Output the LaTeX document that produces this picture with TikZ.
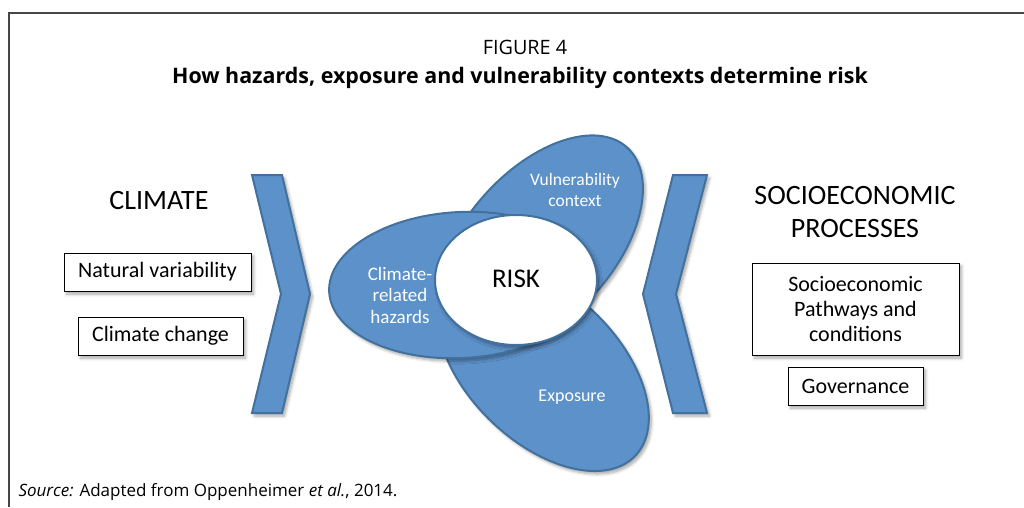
\documentclass[tikz,border=0pt]{standalone}
\usepackage{fontspec}
\setmainfont{Carlito}
\newfontfamily\captionfont{Open Sans}
\usetikzlibrary{shapes.geometric,shadows.blur}

\definecolor{petalblue}{RGB}{93,145,201}
\definecolor{petaledge}{RGB}{65,113,156}
\definecolor{framegray}{RGB}{70,70,70}

\tikzset{
  softshadow/.style={blur shadow={shadow xshift=2.5pt, shadow yshift=-3pt,
      shadow blur radius=3pt, shadow blur steps=6, shadow opacity=35}},
  petal/.style={ellipse, draw=petaledge, fill=petalblue, line width=2pt,
      inner sep=0pt, softshadow},
  petaltext/.style={text=white, align=center,
      font=\fontsize{17.5}{20.5}\selectfont},
  chevron/.style={draw=petaledge, fill=petalblue, line width=2pt, softshadow},
  factorbox/.style={draw=black, fill=white, line width=0.9pt, align=center,
      inner sep=0pt, font=\fontsize{22}{25}\selectfont, softshadow},
  heading/.style={align=center, font=\fontsize{28}{33}\selectfont},
}

\begin{document}
\begin{tikzpicture}[x=1pt, y=-1pt]
  \useasboundingbox (0,0) rectangle (1024,507);

  % Frame
  \draw[framegray, line width=1.2pt] (9,507) -- (9,13) -- (1024,13);

  % Title
  \node[font=\captionfont\fontsize{19.8}{22}\selectfont] (fignum) at (525,47) {FIGURE 4};
  \node[font=\captionfont\bfseries\fontsize{21.4}{24}\selectfont] (figtitle) at (520,78)
    {How hazards, exposure and vulnerability contexts determine risk};

  % Chevrons
  \filldraw[chevron] (252,175) -- (282,175) -- (310,294) -- (282,413)
    -- (252,413) -- (281,294) -- cycle;
  \filldraw[chevron] (673,175) -- (707,175) -- (676,294) -- (707,413)
    -- (673,413) -- (643,294) -- cycle;

  % Petals
  \node[petal, minimum width=260, minimum height=148, rotate=48] (vul) at (540,244) {};
  \node[petal, minimum width=256, minimum height=150, rotate=-44] (expo) at (543,367) {};
  \node[petal, minimum width=264, minimum height=146, rotate=3] (haz) at (461,285) {};
  \node[ellipse, draw=petaledge, fill=white, line width=2pt, inner sep=0pt,
    minimum width=162, minimum height=130, softshadow] (risk) at (516,280) {};

  % Petal labels
  \node[petaltext] (vultext) at (575,190) {Vulnerability\\context};
  \node[petaltext, font=\fontsize{19}{21.5}\selectfont] (haztext) at (400,295) {Climate-\\related\\hazards};
  \node[petaltext, font=\fontsize{18}{21}\selectfont] (expotext) at (572,397) {Exposure};
  \node[font=\fontsize{27}{30}\selectfont] (risktext) at (516,279) {RISK};

  % Climate side
  \node[heading] (climate) at (159,201) {CLIMATE};
  \node[factorbox, minimum width=187, minimum height=38] (natvar) at (157.5,272) {Natural variability};
  \node[factorbox, minimum width=165, minimum height=38] (climchange) at (160.5,336) {Climate change};

  % Socioeconomic side
  \node[heading] (socio) at (855,212) {SOCIOECONOMIC\\PROCESSES};
  \node[factorbox, minimum width=207, minimum height=92] (pathways) at (855.5,309)
    {Socioeconomic\\Pathways and\\conditions};
  \node[factorbox, minimum width=135, minimum height=38] (governance) at (855.5,386) {Governance};

  % Source
  \node[anchor=west, font=\captionfont\fontsize{17}{19}\selectfont] (source) at (15,492)
    {\textit{Source:} Adapted from Oppenheimer \textit{et al.}, 2014.};
\end{tikzpicture}
\end{document}
